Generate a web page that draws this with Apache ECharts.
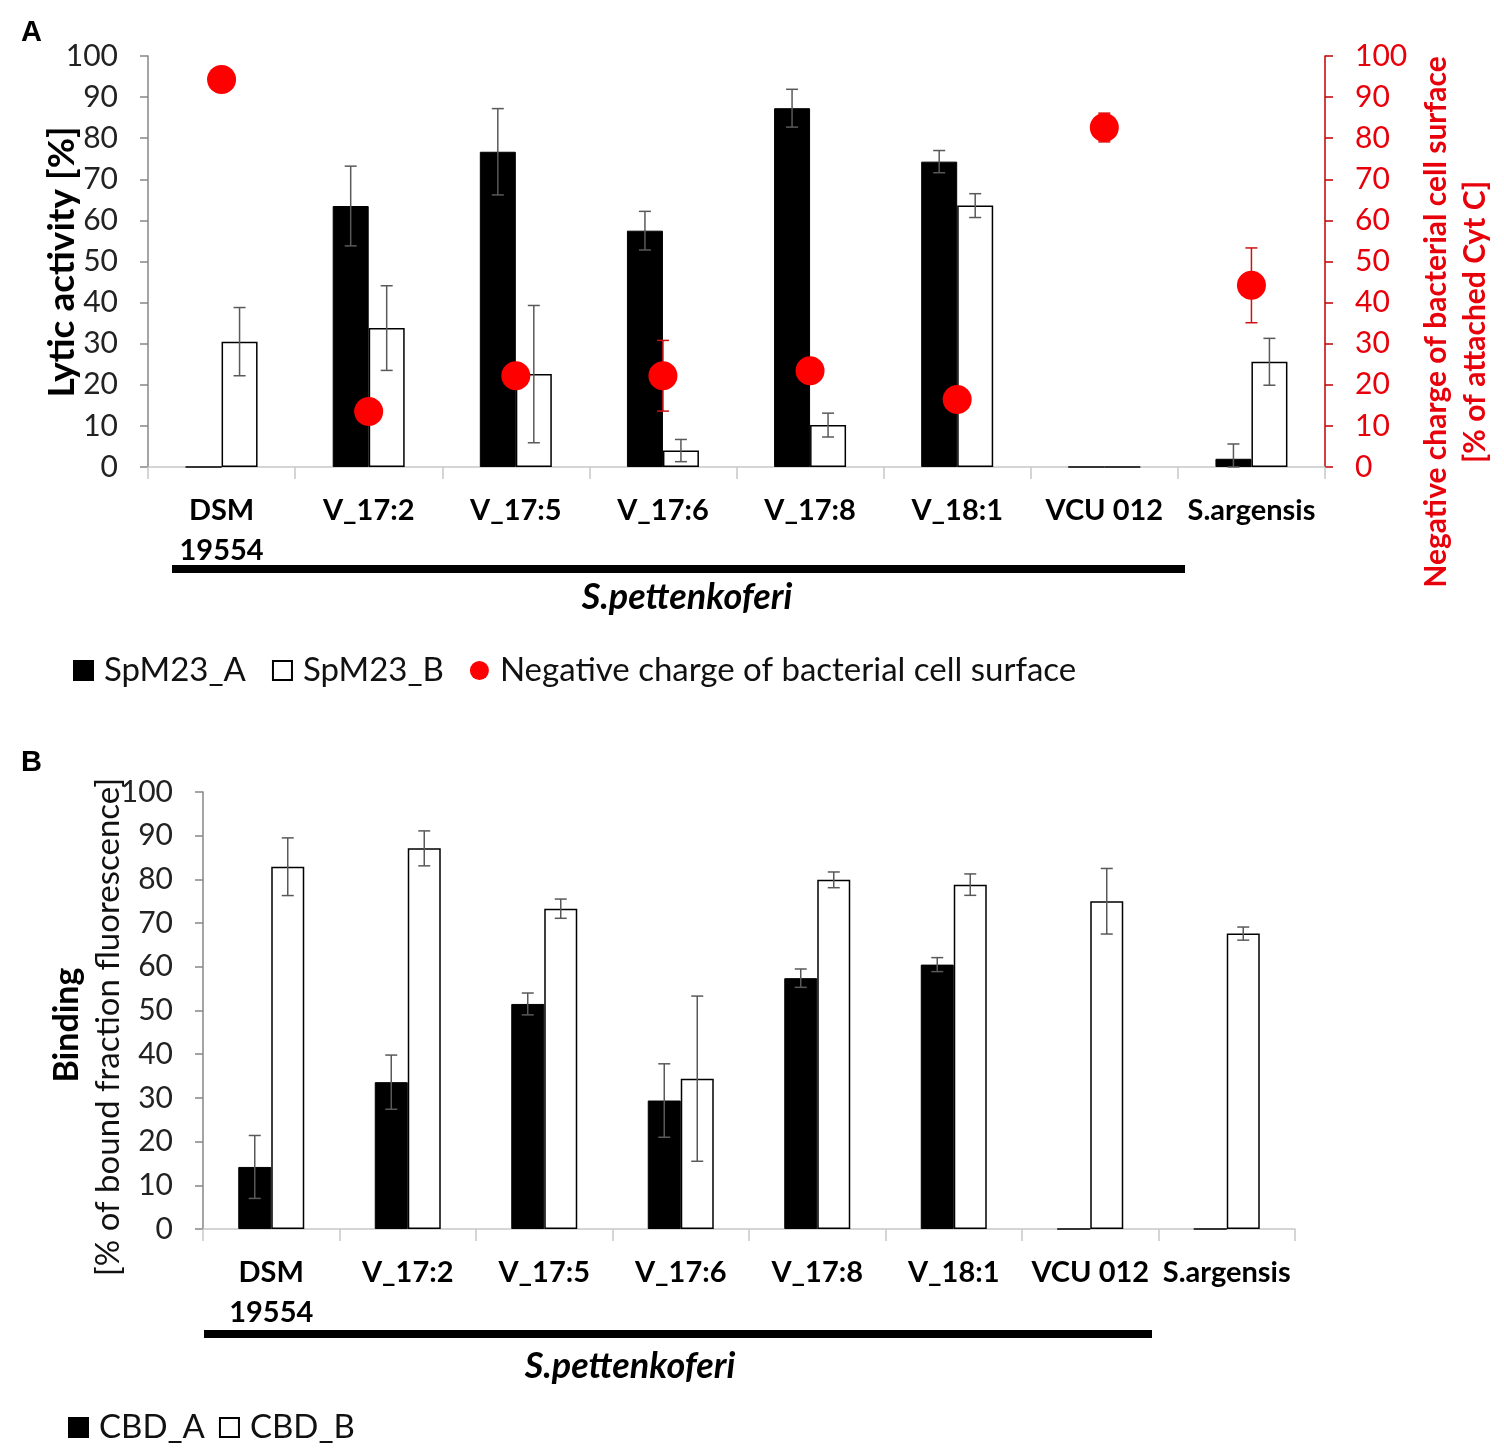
<!DOCTYPE html>
<html>
<head>
<meta charset="utf-8">
<script src="https://cdn.jsdelivr.net/npm/echarts@6/dist/echarts.min.js"></script>
<style>
    body { margin: 0; background: #fff; }
    #main { width: 1504px; height: 1450px; }
</style>
</head>
<body>
<div id="main"></div>
<script>
    var strains = ['DSM\n19554', 'V_17:2', 'V_17:5', 'V_17:6', 'V_17:8', 'V_18:1', 'VCU 012', 'S.argensis'];

    // panel A: lytic activity + negative charge
    var spmA = [0, 63.5, 76.7, 57.5, 87.3, 74.3, 0, 2.0];
    var spmAErr = [0, 9.7, 10.5, 4.7, 4.6, 2.7, 0, 3.6];
    var spmB = [30.5, 33.8, 22.6, 4.0, 10.2, 63.6, 0, 25.6];
    var spmBErr = [8.3, 10.3, 16.7, 2.7, 2.9, 2.9, 0, 5.7];
    var charge = [94.3, 13.5, 22.2, 22.2, 23.4, 16.4, 82.6, 44.2];
    var chargeErr = [0, 0, 0, 8.6, 0, 0, 3.5, 9.1];

    // panel B: binding
    var cbdA = [14.2, 33.6, 51.5, 29.4, 57.4, 60.5, 0, 0];
    var cbdAErr = [7.2, 6.2, 2.5, 8.4, 2.1, 1.6, 0, 0];
    var cbdB = [82.9, 87.1, 73.3, 34.4, 79.9, 78.8, 75.0, 67.6];
    var cbdBErr = [6.6, 4.0, 2.2, 18.9, 1.8, 2.45, 7.5, 1.5];

    var FONT = 'Lato';
    var RED = '#e8000b';

    function errData(vals, errs) {
        return vals.map(function (v, i) { return [i, v, errs[i]]; });
    }

    function errBars(offset, color, cap) {
        return function (params, api) {
            var i = api.value(0), v = api.value(1), e = api.value(2);
            if (!e) return;
            var hi = api.coord([i, v + e]);
            var lo = api.coord([i, Math.max(0, v - e)]);
            var x = hi[0] + offset;
            var st = { stroke: color, lineWidth: 1.5 };
            return {
                type: 'group',
                children: [
                    { type: 'line', shape: { x1: x, y1: hi[1], x2: x, y2: lo[1] }, style: st },
                    { type: 'line', shape: { x1: x - cap, y1: hi[1], x2: x + cap, y2: hi[1] }, style: st },
                    { type: 'line', shape: { x1: x - cap, y1: lo[1], x2: x + cap, y2: lo[1] }, style: st }
                ]
            };
        };
    }

    var catAxis = function (grid) {
        return {
            type: 'category', gridIndex: grid, data: strains,
            axisLine: { lineStyle: { color: '#c8c8c8', width: 1.5 } },
            axisTick: { show: true, length: 12, lineStyle: { color: '#c8c8c8', width: 1.5 } },
            axisLabel: { fontFamily: FONT, fontWeight: 'bold', fontSize: 29, color: '#000', margin: 24, lineHeight: 40, interval: 0 }
        };
    };

    var valAxis = function (grid, extra) {
        var ax = {
            type: 'value', gridIndex: grid, min: 0, max: 100, interval: 10,
            splitLine: { show: false },
            axisLine: { show: true, lineStyle: { color: '#868686', width: 1.5 } },
            axisTick: { show: true, length: 8, lineStyle: { color: '#868686', width: 1.5 } },
            axisLabel: { fontFamily: FONT, fontSize: 30, color: '#222', margin: 30 }
        };
        for (var k in extra) ax[k] = extra[k];
        return ax;
    };

    function vtext(x, y, text, font, fill) {
        return {
            type: 'text', x: x, y: y, rotation: Math.PI / 2,
            style: { text: text, font: font, fill: fill, align: 'center', verticalAlign: 'middle' }
        };
    }

    var myChart = echarts.init(document.getElementById('main'));

    var legendText = { fontFamily: FONT, fontSize: 33, color: '#111', padding: [0, 0, 0, 6] };

    var option = {
        backgroundColor: '#fff',
        animation: false,
        grid: [
            { left: 148, right: 179, top: 56, bottom: 983 },
            { left: 203, right: 209, top: 792, bottom: 221 }
        ],
        legend: [
            {
                left: 68, top: 649, itemWidth: 19, itemHeight: 19, itemGap: 26,
                textStyle: legendText,
                data: [
                    { name: 'SpM23_A', icon: 'rect' },
                    { name: 'SpM23_B', icon: 'rect' },
                    { name: 'Negative charge of bacterial cell surface', icon: 'circle' }
                ]
            },
            {
                left: 63, top: 1406, itemWidth: 19, itemHeight: 19, itemGap: 14,
                textStyle: legendText,
                data: [
                    { name: 'CBD_A', icon: 'rect' },
                    { name: 'CBD_B', icon: 'rect' }
                ]
            }
        ],
        xAxis: [catAxis(0), catAxis(1)],
        yAxis: [
            valAxis(0, {}),
            valAxis(0, {
                position: 'right',
                axisLine: { show: true, lineStyle: { color: '#c00000', width: 1.5 } },
                axisTick: { show: true, length: 8, lineStyle: { color: '#c00000', width: 1.5 } },
                axisLabel: { fontFamily: FONT, fontSize: 30, color: RED, margin: 30 }
            }),
            valAxis(1, {})
        ],
        series: [
            {
                name: 'SpM23_A', type: 'bar', xAxisIndex: 0, yAxisIndex: 0, data: spmA,
                barWidth: 36, barGap: '0%',
                itemStyle: { color: '#000', borderColor: '#000', borderWidth: 1 }
            },
            {
                name: 'SpM23_B', type: 'bar', xAxisIndex: 0, yAxisIndex: 0, data: spmB,
                barWidth: 36, barGap: '0%',
                itemStyle: { color: '#fff', borderColor: '#000', borderWidth: 1.5 }
            },
            {
                type: 'custom', xAxisIndex: 0, yAxisIndex: 0, z: 3,
                renderItem: errBars(-18, '#595959', 6), data: errData(spmA, spmAErr)
            },
            {
                type: 'custom', xAxisIndex: 0, yAxisIndex: 0, z: 3,
                renderItem: errBars(18, '#595959', 6), data: errData(spmB, spmBErr)
            },
            {
                name: 'Negative charge of bacterial cell surface', type: 'scatter',
                xAxisIndex: 0, yAxisIndex: 1, data: charge, symbolSize: 29, z: 5,
                itemStyle: { color: '#ff0000', opacity: 1 }
            },
            {
                type: 'custom', xAxisIndex: 0, yAxisIndex: 1, z: 4,
                renderItem: errBars(0, '#d01010', 6), data: errData(charge, chargeErr)
            },
            {
                name: 'CBD_A', type: 'bar', xAxisIndex: 1, yAxisIndex: 2, data: cbdA,
                barWidth: 33, barGap: '0%',
                itemStyle: { color: '#000', borderColor: '#000', borderWidth: 1 }
            },
            {
                name: 'CBD_B', type: 'bar', xAxisIndex: 1, yAxisIndex: 2, data: cbdB,
                barWidth: 33, barGap: '0%',
                itemStyle: { color: '#fff', borderColor: '#000', borderWidth: 1.5 }
            },
            {
                type: 'custom', xAxisIndex: 1, yAxisIndex: 2, z: 3,
                renderItem: errBars(-16.5, '#595959', 6), data: errData(cbdA, cbdAErr)
            },
            {
                type: 'custom', xAxisIndex: 1, yAxisIndex: 2, z: 3,
                renderItem: errBars(16.5, '#595959', 6), data: errData(cbdB, cbdBErr)
            }
        ],
        graphic: [
            { type: 'text', left: 21, top: 18, style: { text: 'A', font: 'bold 29px "Liberation Sans"', fill: '#000' } },
            { type: 'text', left: 21, top: 748, style: { text: 'B', font: 'bold 29px "Liberation Sans"', fill: '#000' } },
            // axis titles
            vtext(62, 262, 'Lytic activity [%]', 'bold 37px Lato', '#000'),
            vtext(1436, 322, 'Negative charge of bacterial cell surface', 'bold 30px Lato', RED),
            vtext(1475, 322, '[% of attached Cyt C]', 'bold 30px Lato', RED),
            vtext(67, 1025, 'Binding', 'bold 34px Lato', '#000'),
            vtext(108, 1027, '[% of bound fraction fluorescence]', '33px Lato', '#111'),
            // species bracket
            { type: 'rect', shape: { x: 172, y: 565, width: 1013, height: 8 }, style: { fill: '#000' } },
            { type: 'text', x: 687, y: 597, style: { text: 'S.pettenkoferi', font: 'italic bold 36px Lato', fill: '#000', align: 'center', verticalAlign: 'middle' } },
            { type: 'rect', shape: { x: 204, y: 1330, width: 948, height: 8 }, style: { fill: '#000' } },
            { type: 'text', x: 630, y: 1366, style: { text: 'S.pettenkoferi', font: 'italic bold 36px Lato', fill: '#000', align: 'center', verticalAlign: 'middle' } }
        ]
    };

    myChart.setOption(option);
</script>
</body>
</html>
